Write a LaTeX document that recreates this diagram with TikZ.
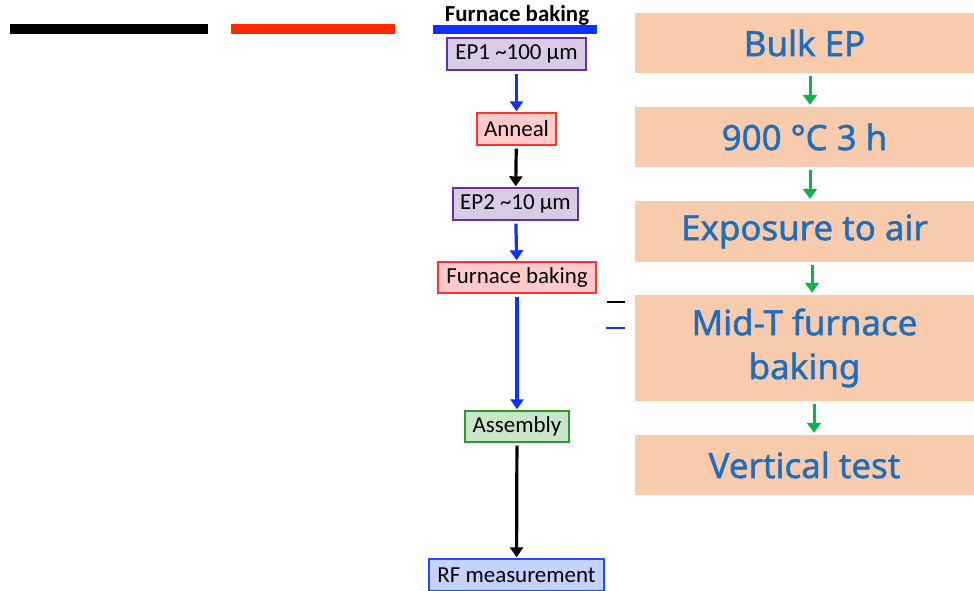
\documentclass[tikz,border=0pt]{standalone}
\usepackage{fontspec}
\setmainfont{Carlito}
\newfontfamily\stepfont[FakeBold=1.2]{Noto Sans}
\usetikzlibrary{arrows.meta}
\definecolor{epfill}{HTML}{D8CBE6}
\definecolor{epline}{HTML}{6A2FA0}
\definecolor{redfill}{HTML}{FFCACA}
\definecolor{redline}{HTML}{FF3030}
\definecolor{grnfill}{HTML}{C9E6C9}
\definecolor{grnline}{HTML}{2E9A2E}
\definecolor{bluefill}{HTML}{C3D2FF}
\definecolor{blueline}{HTML}{1F4BFF}
\definecolor{arrblue}{HTML}{1030FF}
\definecolor{barred}{HTML}{FF2A00}
\definecolor{peach}{HTML}{F8CBAD}
\definecolor{steptext}{HTML}{1E6EBE}
\definecolor{stepgreen}{HTML}{12B04A}
\tikzset{
  x=1bp, y=-1bp,
  procbox/.style={draw, line width=1.4bp, minimum height=32bp, inner sep=0pt,
    font=\fontsize{23}{25}\selectfont},
  epbox/.style={procbox, fill=epfill, draw=epline},
  redbox/.style={procbox, fill=redfill, draw=redline},
  grnbox/.style={procbox, fill=grnfill, draw=grnline},
  bluebox/.style={procbox, fill=bluefill, draw=blueline},
  flow/.style={line width=3.2bp, -{Triangle[length=10bp,width=13bp]}, shorten >=1bp, shorten <=3bp},
  stepbox/.style={fill=peach, inner sep=0pt, minimum width=339bp, text=steptext,
    font=\stepfont\fontsize{35}{44}\selectfont, align=center},
  stepflow/.style={line width=3bp, draw=stepgreen, -{Triangle[length=10bp,width=14bp]},
    shorten >=2bp, shorten <=3bp},
  legbar/.style={line width=10bp}
}
\begin{document}
\begin{tikzpicture}
\useasboundingbox (0,0) rectangle (974,591);
% legend bars
\draw[legbar, black] (10,29) -- (208,29);
\draw[legbar, barred] (231,29) -- (395,29);
\draw[line width=9bp, arrblue] (433,29.5) -- (597,29.5);
\node[font=\bfseries\fontsize{23}{25}\selectfont, inner sep=0pt] (title) at (517,15) {Furnace baking};
% left process chain
\node[epbox, minimum width=139bp] (ep1) at (516.5,54) {EP1 \textasciitilde100 µm};
\node[redbox, minimum width=79bp] (ann) at (516.5,129) {Anneal};
\node[epbox, minimum width=125bp] (ep2) at (515.5,204) {EP2 \textasciitilde10 µm};
\node[redbox, minimum width=158bp, minimum height=31bp] (bake) at (517,277.5) {Furnace baking};
\node[grnbox, minimum width=104bp, minimum height=31bp] (asm) at (517,426.5) {Assembly};
\node[bluebox, minimum width=175bp] (rf) at (516.5,575) {RF measurement};
\draw[flow, arrblue] (ep1) -- (ann);
\draw[flow, black] (ann) -- (ep2);
\draw[flow, arrblue] (ep2) -- (bake);
\draw[flow, arrblue] (bake) -- (asm);
\draw[flow, black] (asm) -- (rf);
% short marks beside the right column
\coordinate (mk1a) at (607,302); \coordinate (mk1b) at (625,302);
\coordinate (mk2a) at (606,328); \coordinate (mk2b) at (625,328);
\draw[line width=2.2bp, black] (mk1a) -- (mk1b);
\draw[line width=2.2bp, arrblue] (mk2a) -- (mk2b);
% right column steps
\node[stepbox, minimum height=60bp] (s1) at (804.5,43) {Bulk EP};
\node[stepbox, minimum height=60bp] (s2) at (804.5,137) {900 °C 3 h};
\node[stepbox, minimum height=61bp] (s3) at (804.5,231.5) {Exposure to air};
\node[stepbox, minimum height=106bp] (s4) at (804.5,348) {Mid-T furnace\\baking};
\node[stepbox, minimum height=60bp] (s5) at (804.5,465) {Vertical test};
\draw[stepflow] (s1.south -| 810,0) -- (s2.north -| 810,0);
\draw[stepflow] (s2.south -| 810,0) -- (s3.north -| 810,0);
\draw[stepflow] (s3.south -| 812,0) -- (s4.north -| 812,0);
\draw[stepflow] (s4.south -| 814,0) -- (s5.north -| 814,0);
\end{tikzpicture}
\end{document}
